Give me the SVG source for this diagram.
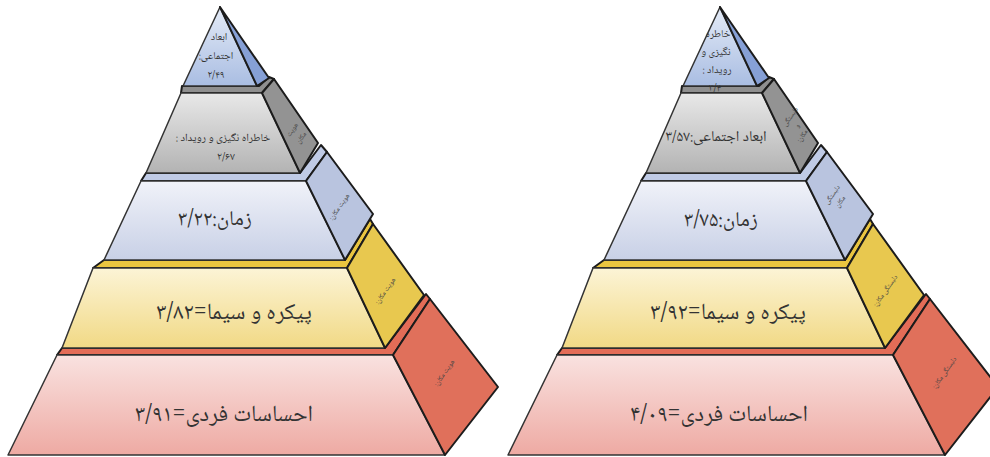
<svg xmlns="http://www.w3.org/2000/svg" width="990" height="457" viewBox="0 0 990 457">
<defs>
<linearGradient id="gRed" x1="0" y1="0" x2="0" y2="1"><stop offset="0" stop-color="#f9e2e0"/><stop offset="1" stop-color="#eeaaa3"/></linearGradient>
<linearGradient id="gYel" x1="0" y1="0" x2="0" y2="1"><stop offset="0" stop-color="#fcf4d6"/><stop offset="1" stop-color="#f1d985"/></linearGradient>
<linearGradient id="gBlu" x1="0" y1="0" x2="0" y2="1"><stop offset="0" stop-color="#f0f2f9"/><stop offset="1" stop-color="#c8d0e6"/></linearGradient>
<linearGradient id="gGry" x1="0" y1="0" x2="0" y2="1"><stop offset="0" stop-color="#e8e8e8"/><stop offset="1" stop-color="#b3b3b3"/></linearGradient>
<linearGradient id="gTri" x1="0" y1="0" x2="0" y2="1"><stop offset="0" stop-color="#e4ebf7"/><stop offset="1" stop-color="#a9bde2"/></linearGradient>
</defs>
<style>
.e{stroke:#1c1c1c;stroke-width:2;stroke-linejoin:round}
.f{stroke:#333;stroke-width:1.5;stroke-linejoin:round}
.t{font-family:"Noto Naskh Arabic","Noto Sans Arabic","DejaVu Sans",sans-serif;fill:#333;text-anchor:middle;direction:rtl}
.s{font-family:"Noto Naskh Arabic","Noto Sans Arabic","DejaVu Sans",sans-serif;fill:#444;text-anchor:middle;direction:rtl;font-size:7px}
.redS{fill:#e0705b}.redL{fill:#e36c57}
.yelS{fill:#e8c84f}.yelL{fill:#eac540}
.bluS{fill:#b9c4df}.bluL{fill:#c0cbe6}
.gryS{fill:#939393}.gryL{fill:#8f8f8f}
.triS{fill:#86a0d6}
</style>

<g id="pyramid-left">
 <g id="L-red">
  <polygon class="e redL" points="62,348 385,348 426,294 430,299 393,355 57,355"/>
  <polygon class="f" fill="url(#gRed)" points="57,355 393,355 445,455 8,455"/>
  <polygon class="e redS" points="393,355 430,299 498,387 445,455"/>
  <text class="t" x="224" y="421" font-size="23">احساسات فردی=۳/۹۱</text>
  <text class="s" transform="translate(446,374) rotate(-55)">هویت مکان:</text>
 </g>
 <g id="L-yellow">
  <polygon class="e yelL" points="104,260 345,260 370,219 373,224 347,268 93,268"/>
  <polygon class="f" fill="url(#gYel)" points="93,268 347,268 385,348 62,348"/>
  <polygon class="e yelS" points="347,268 373,224 424,295 385,348"/>
  <text class="t" x="234" y="319" font-size="23">پیکره و سیما=۳/۸۲</text>
  <text class="s" transform="translate(387,292) rotate(-55)">هویت مکان:</text>
 </g>
 <g id="L-blue">
  <polygon class="e bluL" points="146,173 300,173 321,145 327,152 306,181 141,181"/>
  <polygon class="f" fill="url(#gBlu)" points="141,181 306,181 345,260 104,260"/>
  <polygon class="e bluS" points="306,181 327,152 373,214 345,260"/>
  <text class="t" x="215" y="225" font-size="21">زمان:۳/۲۲</text>
  <text class="s" transform="translate(341,208) rotate(-55)">هویت مکان:</text>
 </g>
 <g id="L-gray">
  <polygon class="e gryL" points="182,86 259,86 269,77 274,79 262,93 181,93"/>
  <polygon class="f" fill="url(#gGry)" points="181,93 262,93 300,173 146,173"/>
  <polygon class="e gryS" points="262,93 274,79 318,143 300,173"/>
  <text class="t" x="223" y="141" font-size="11">خاطراه نگیزی و رویداد :</text>
  <text class="t" x="226" y="160" font-size="11">۲/۶۷</text>
  <text class="s" transform="translate(294,131) rotate(-55)">هویت</text>
  <text class="s" transform="translate(303,139) rotate(-55)">مکان</text>
 </g>
 <g id="L-top">
  <polygon class="f" fill="url(#gTri)" points="220,7 257,86 183,86"/>
  <polygon class="e triS" points="220,7 269,78 257,86"/>
  <text class="t" x="219" y="40" font-size="10.5">ابعاد</text>
  <text class="t" x="216" y="59" font-size="10.5">اجتماعی:</text>
  <text class="t" x="216" y="78" font-size="10.5">۲/۴۹</text>
 </g>
</g>

<g id="pyramid-right" transform="translate(500,0)">
 <g id="R-red">
  <polygon class="e redL" points="62,348 385,348 426,294 430,299 393,355 57,355"/>
  <polygon class="f" fill="url(#gRed)" points="57,355 393,355 445,455 8,455"/>
  <polygon class="e redS" points="393,355 430,299 498,387 445,455"/>
  <text class="t" x="219" y="421" font-size="23">احساسات فردی=۴/۰۹</text>
  <text class="s" transform="translate(446,374) rotate(-55)">دلبستگی مکان:</text>
 </g>
 <g id="R-yellow">
  <polygon class="e yelL" points="104,260 345,260 370,219 373,224 347,268 93,268"/>
  <polygon class="f" fill="url(#gYel)" points="93,268 347,268 385,348 62,348"/>
  <polygon class="e yelS" points="347,268 373,224 424,295 385,348"/>
  <text class="t" x="228" y="319" font-size="23">پیکره و سیما=۳/۹۲</text>
  <text class="s" transform="translate(387,292) rotate(-55)">دلبستگی مکان:</text>
 </g>
 <g id="R-blue">
  <polygon class="e bluL" points="146,173 300,173 321,145 327,152 306,181 141,181"/>
  <polygon class="f" fill="url(#gBlu)" points="141,181 306,181 345,260 104,260"/>
  <polygon class="e bluS" points="306,181 327,152 373,214 345,260"/>
  <text class="t" x="221" y="226" font-size="21">زمان:۳/۷۵</text>
  <text class="s" transform="translate(334,196) rotate(-55)">دلبستگی</text>
  <text class="s" transform="translate(342,203) rotate(-55)">مکان</text>
 </g>
 <g id="R-gray">
  <polygon class="e gryL" points="182,86 259,86 269,77 274,79 262,93 181,93"/>
  <polygon class="f" fill="url(#gGry)" points="181,93 262,93 300,173 146,173"/>
  <polygon class="e gryS" points="262,93 274,79 318,143 300,173"/>
  <text class="t" x="216" y="141" font-size="15">ابعاد اجتماعی:۳/۵۷</text>
  <text class="s" transform="translate(292,118) rotate(-55)">دلبستگی</text>
  <text class="s" transform="translate(299,127) rotate(-55)">و</text>
  <text class="s" transform="translate(304,137) rotate(-55)">مکان:</text>
 </g>
 <g id="R-top">
  <polygon class="f" fill="url(#gTri)" points="220,7 257,86 183,86"/>
  <polygon class="e triS" points="220,7 269,78 257,86"/>
  <text class="t" x="218" y="37" font-size="10.5">خاطره</text>
  <text class="t" x="216" y="55" font-size="10.5">نگیزی و</text>
  <text class="t" x="217" y="73" font-size="10.5">رویداد :</text>
  <text class="t" x="215" y="91" font-size="10.5">۳/۴</text>
 </g>
</g>
</svg>
